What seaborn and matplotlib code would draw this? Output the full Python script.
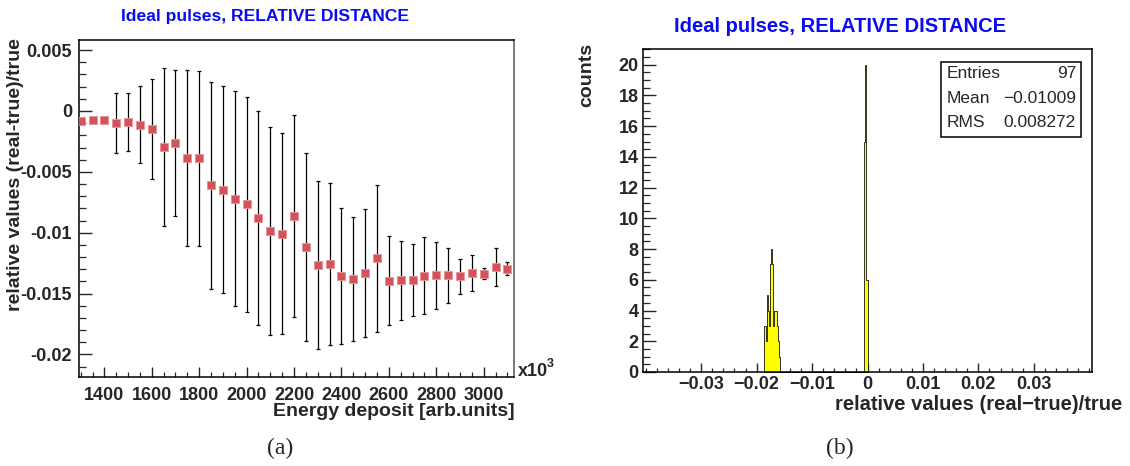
import numpy as np
import pandas as pd
import matplotlib
matplotlib.use("Agg")
import matplotlib.pyplot as plt
from matplotlib.ticker import MultipleLocator, FixedLocator, FixedFormatter
from matplotlib.patches import Rectangle
import seaborn as sns

# ---------------- data ----------------
energy = [1300, 1350, 1400, 1450, 1500, 1550, 1600, 1650, 1700, 1750,
          1800, 1850, 1900, 1950, 2000, 2050, 2100, 2150, 2200, 2250,
          2300, 2350, 2400, 2450, 2500, 2550, 2600, 2650, 2700, 2750,
          2800, 2850, 2900, 2950, 3000, 3050, 3100]
rel_mean = [-0.00080, -0.00076, -0.00072, -0.00101, -0.00093, -0.00112, -0.00145,
            -0.00295, -0.00262, -0.00388, -0.00390, -0.00612, -0.00645, -0.00719,
            -0.00768, -0.00877, -0.00984, -0.01008, -0.00861, -0.01115, -0.01265,
            -0.01257, -0.01352, -0.01380, -0.01334, -0.01211, -0.01393, -0.01390,
            -0.01390, -0.01352, -0.01350, -0.01350, -0.01358, -0.01330, -0.01336,
            -0.01279, -0.01295]
rel_err = [0.00015, 0.00015, 0.00015, 0.00246, 0.00237, 0.00317, 0.00410,
           0.00649, 0.00598, 0.00721, 0.00721, 0.00854, 0.00850, 0.00884,
           0.00883, 0.00877, 0.00855, 0.00826, 0.00828, 0.00773, 0.00690,
           0.00664, 0.00559, 0.00508, 0.00526, 0.00604, 0.00366, 0.00324,
           0.00298, 0.00318, 0.00273, 0.00226, 0.00146, 0.00148, 0.00046,
           0.00156, 0.00055]

left_ticks = [0.005, 0.0, -0.005, -0.01, -0.015, -0.02]
left_ticklabels = ["0.005", "0", "-0.005", "-0.01", "-0.015", "-0.02"]
energy_ticks = [1400, 1600, 1800, 2000, 2200, 2400, 2600, 2800, 3000]

hist_bin_width = 0.0002
cluster_start = -0.0186
cluster_counts = [3, 2, 5, 4, 3, 7, 8, 7, 3, 4, 4, 3, 2, 1]
spike_start = -0.0006
spike_counts = [15, 20, 6]

hist_ticks = [-0.03, -0.02, -0.01, 0.0, 0.01, 0.02, 0.03]
hist_ticklabels = ["\u22120.03", "\u22120.02", "\u22120.01", "0", "0.01", "0.02", "0.03"]
count_ticks = [0, 2, 4, 6, 8, 10, 12, 14, 16, 18, 20]

stats_names = ["Entries", "Mean", "RMS"]
stats_values = ["97", "\u22120.01009", "0.008272"]

title_text = "Ideal pulses, RELATIVE DISTANCE"

# ---------------- style ----------------
sns.set_style("ticks")
plt.rcParams["font.family"] = ["Liberation Sans", "DejaVu Sans"]

W, H = 1130, 466
fig = plt.figure(figsize=(W / 100, H / 100), dpi=100)

def fx(x):
    return x / W

def fy(y):
    return 1 - y / H

def px2pt(p):
    return p * 0.72

# ---------------- left panel ----------------
axL = fig.add_axes([fx(79), fy(377), fx(514) - fx(79), fy(40) - fy(377)])
axL.errorbar(energy, rel_mean, yerr=rel_err, fmt="none", ecolor="black",
             elinewidth=0.9, capsize=1.5, capthick=0.9, zorder=2)
sns.scatterplot(x=energy, y=rel_mean, marker="s", s=30, color="#d4525a",
                edgecolor="#e8959a", linewidth=0.7, zorder=3, ax=axL)
axL.set_xlim(1293, 3128)
axL.set_ylim(-0.02185, 0.00583)
axL.yaxis.set_major_locator(FixedLocator(left_ticks))
axL.yaxis.set_major_formatter(FixedFormatter(left_ticklabels))
axL.yaxis.set_minor_locator(MultipleLocator(0.001))
axL.xaxis.set_major_locator(FixedLocator(energy_ticks))
axL.xaxis.set_minor_locator(MultipleLocator(50))
axL.tick_params(axis="y", which="major", direction="in", length=px2pt(13), width=1,
                labelsize=13, pad=5, right=False)
axL.tick_params(axis="y", which="minor", direction="in", length=px2pt(7), width=0.9, right=False)
axL.tick_params(axis="x", which="major", direction="in", length=px2pt(10), width=1,
                labelsize=13, pad=7, top=False)
axL.tick_params(axis="x", which="minor", direction="in", length=px2pt(5), width=0.9, top=False)
for lab in axL.get_xticklabels() + axL.get_yticklabels():
    lab.set_fontweight("bold")
for s in axL.spines.values():
    s.set_linewidth(1.1)
    s.set_color("black")
axL.spines["right"].set_color("#555555")
axL.set_xlabel("")
axL.set_ylabel("")

# ---------------- right panel ----------------
axR = fig.add_axes([fx(643), fy(372), fx(1092) - fx(643), fy(49.3) - fy(372)])
cluster_centers = [cluster_start + (i + 0.5) * hist_bin_width for i in range(len(cluster_counts))]
spike_centers = [spike_start + (i + 0.5) * hist_bin_width for i in range(len(spike_counts))]
hist_df = pd.DataFrame({
    "value": cluster_centers + spike_centers,
    "count": cluster_counts + spike_counts,
})
n_bins = int(round((spike_start + len(spike_counts) * hist_bin_width - cluster_start) / hist_bin_width))
edges = [cluster_start + i * hist_bin_width for i in range(n_bins + 1)]
sns.histplot(data=hist_df, x="value", weights="count", bins=edges, element="step",
             fill=True, facecolor="#ffff00", edgecolor="black", linewidth=0.55,
             alpha=1, ax=axR)
axR.set_xlim(-0.0405, 0.0405)
axR.set_ylim(0, 21)
axR.xaxis.set_major_locator(FixedLocator(hist_ticks))
axR.xaxis.set_major_formatter(FixedFormatter(hist_ticklabels))
axR.xaxis.set_minor_locator(MultipleLocator(0.002))
axR.yaxis.set_major_locator(FixedLocator(count_ticks))
axR.yaxis.set_minor_locator(MultipleLocator(0.5))
axR.tick_params(axis="y", which="major", direction="in", length=px2pt(13), width=1,
                labelsize=13, pad=3, right=False)
axR.tick_params(axis="y", which="minor", direction="in", length=px2pt(7), width=0.9, right=False)
axR.tick_params(axis="x", which="major", direction="in", length=px2pt(9), width=1,
                labelsize=13, pad=3, top=False)
axR.tick_params(axis="x", which="minor", direction="in", length=px2pt(4.5), width=0.9, top=False)
for lab in axR.get_xticklabels() + axR.get_yticklabels():
    lab.set_fontweight("bold")
for s in axR.spines.values():
    s.set_linewidth(1.1)
    s.set_color("black")
axR.set_xlabel("")
axR.set_ylabel("")

# stats box
fig.add_artist(Rectangle((fx(940.7), fy(137.3)), fx(1080.7) - fx(940.7), fy(61.7) - fy(137.3),
                         transform=fig.transFigure, facecolor="white", edgecolor="black",
                         linewidth=1.1, zorder=5))
for i, (nm, val) in enumerate(zip(stats_names, stats_values)):
    yy = 74 + i * 24.3
    fig.text(fx(947), fy(yy), nm, ha="left", va="center", fontsize=12.5, zorder=6)
    fig.text(fx(1076), fy(yy), val, ha="right", va="center", fontsize=12.5, zorder=6)

# ---------------- texts ----------------
fig.text(fx(265), fy(17), title_text, ha="center", va="center", color="#0a0af5",
         fontsize=12.6, fontweight="bold")
fig.text(fx(840), fy(27), title_text, ha="center", va="center", color="#0a0af5",
         fontsize=14.5, fontweight="bold")

fig.text(fx(16), fy(38), "relative values (real-true)/true", rotation=90,
         ha="center", va="top", fontsize=14, fontweight="bold")
fig.text(fx(515), fy(411), "Energy deposit [arb.units]", ha="right", va="center",
         fontsize=14, fontweight="bold")
fig.text(fx(518), fy(371), "x10", ha="left", va="center", fontsize=13, fontweight="bold")
fig.text(fx(547), fy(364), "3", ha="left", va="center", fontsize=9, fontweight="bold")

fig.text(fx(587), fy(43), "counts", rotation=90, ha="center", va="top",
         fontsize=14, fontweight="bold")
fig.text(fx(1122), fy(405), "relative values (real\u2212true)/true", ha="right", va="center",
         fontsize=14.5, fontweight="bold")

fig.text(fx(280), fy(448), "(a)", ha="center", va="center", fontsize=17,
         family=["Liberation Serif", "DejaVu Serif"])
fig.text(fx(840), fy(448), "(b)", ha="center", va="center", fontsize=17,
         family=["Liberation Serif", "DejaVu Serif"])

fig.savefig("out.png", dpi=100)
